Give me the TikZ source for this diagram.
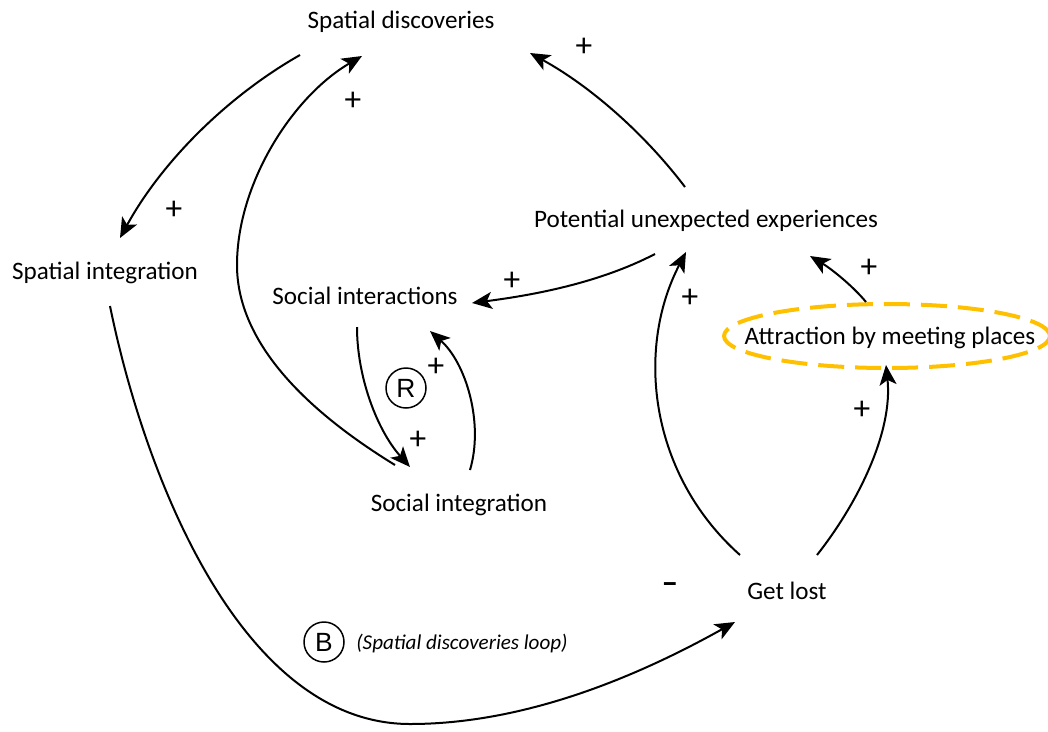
\documentclass[tikz,border=0pt]{standalone}
\usepackage{fontspec}
\setmainfont{Carlito}
\newfontfamily\markfont{Liberation Sans}
\usetikzlibrary{arrows.meta}
\definecolor{gold}{RGB}{255,192,0}
\begin{document}
\begin{tikzpicture}[x=0.02cm,y=-0.02cm,
  lbl/.style={font=\fontsize{14.3}{16}\selectfont, inner sep=0pt},
  sgn/.style={font=\fontsize{19}{20}\selectfont, inner sep=0pt},
  link/.style={line width=0.04cm, -{Stealth[length=0.4cm,width=0.34cm,inset=0.1cm]}},
  loopmark/.style={circle, draw, line width=0.03cm, minimum size=0.8cm, inner sep=0pt,
    font=\markfont\fontsize{15}{15}\selectfont},
  dashring/.style={draw=gold, line width=0.08cm, dash pattern=on 0.52cm off 0.22cm}]
\useasboundingbox (0,0) rectangle (1048,731);

% variables
\node[lbl] (sd)  at (401,22)  {Spatial discoveries};
\node[lbl] (si)  at (105,273) {Spatial integration};
\node[lbl] (pue) at (706,221) {Potential unexpected experiences};
\node[lbl] (soi) at (365,296) {Social interactions};
\node[lbl] (sg)  at (459,505) {Social integration};
\node[lbl] (gl)  at (787,591) {Get lost};
\node[lbl] (att) at (890,338) {Attraction by meeting places};
\draw[dashring] ([shift={(-3,-2)}]att.center) ellipse [x radius=3.26cm, y radius=0.64cm];

% loop markers
\node[loopmark] (rloop) at (406,388) {R};
\node[loopmark] (bloop) at (324,642) {B};
\node[font=\fontsize{12}{14}\selectfont\itshape, anchor=west, inner sep=0pt] (bname)
  at (356,643) {(Spatial discoveries loop)};

% causal links
\draw[link] ([shift={(-101,33)}]sd.center) .. controls (226,97) and (161,163) .. ([shift={(15,-35)}]si.center);
\draw[link] ([shift={(-64,-40)}]sg.center) .. controls (320,419) and (237,350) .. (237,265)
  .. controls (237,184) and (292,97) .. ([shift={(-39,34)}]sd.center);
\draw[link] ([shift={(-21,-34)}]pue.center) .. controls (644,133) and (590,86) .. ([shift={(129,31)}]sd.center);
\draw[link] ([shift={(-51,33)}]pue.center) .. controls (599,283) and (534,295) .. ([shift={(107,7)}]soi.center);
\draw[link] ([shift={(-8,31)}]soi.center) .. controls (357,377) and (377,430) .. ([shift={(-49,-38)}]sg.center);
\draw[link] ([shift={(11,-35)}]sg.center) .. controls (484,423) and (466,363) .. ([shift={(65,35)}]soi.center);
\draw[link] ([shift={(-47,-36)}]gl.center) .. controls (650,475) and (635,350) .. ([shift={(-20,31)}]pue.center);
\draw[link] ([shift={(-24,-36)}]att.center) .. controls (852,285) and (830,268) .. ([shift={(104,35)}]pue.center);
\draw[link] ([shift={(30,-36)}]gl.center) .. controls (858,503) and (893,432) .. ([shift={(-4,27)}]att.center);
\draw[link] ([shift={(5,33)}]si.center) .. controls (144,473) and (240,724) .. (410,724)
  .. controls (522,724) and (633,679) .. ([shift={(-52,31)}]gl.center);

% polarities
\node[sgn] (p1) at (174,210) {+};
\node[sgn] (p2) at (353,101) {+};
\node[sgn] (p3) at (584,47)  {+};
\node[sgn] (p4) at (512,281) {+};
\node[sgn] (p5) at (436,367) {+};
\node[sgn] (p6) at (418,440) {+};
\node[sgn] (p7) at (690,298) {+};
\node[sgn] (p8) at (869,268) {+};
\node[sgn] (p9) at (862,410) {+};
\node[sgn, font=\fontsize{19}{20}\selectfont\bfseries] (m1) at (670,588) {–};
\end{tikzpicture}
\end{document}
